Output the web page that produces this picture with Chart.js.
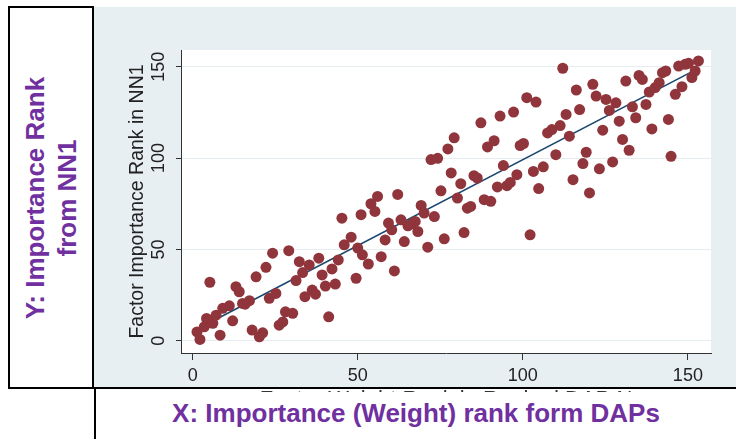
<!DOCTYPE html>
<html>
<head>
<meta charset="utf-8">
<script src="https://cdn.jsdelivr.net/npm/chart.js@4.4.1/dist/chart.umd.min.js"></script>
<style>
html, body { margin: 0; padding: 0; background: #fff; }
#wrap { position: relative; width: 736px; height: 439px; overflow: hidden; font-family: "Liberation Sans", Arial, sans-serif; }
#panel { position: absolute; left: 94px; top: 7px; width: 642px; height: 381px; background: #e8eff2; }
#cv { position: absolute; left: 0; top: 0; }
#ybox { position: absolute; left: 8px; top: 6px; width: 82px; height: 379px; border: 2px solid #000; background: #fff; }
#ytxt { position: absolute; left: 50%; top: 50%; transform: translate(-50%, -50%) rotate(-90deg); white-space: nowrap; text-align: center; font-weight: bold; font-size: 26px; line-height: 32px; color: #7030a0; }
#hline { position: absolute; left: 8px; top: 387px; width: 728px; height: 2px; background: #000; }
#vline { position: absolute; left: 94px; top: 387px; width: 2px; height: 52px; background: #000; }
#xbox { position: absolute; left: 96px; top: 392px; width: 640px; height: 47px; background: #fff; }
#xtxt { position: absolute; left: 0; width: 640px; top: 6px; text-align: center; font-weight: bold; font-size: 26px; line-height: 30px; color: #7030a0; white-space: nowrap; }
</style>
</head>
<body>
<div id="wrap">
  <div id="panel"></div>
  <canvas id="cv" width="736" height="439"></canvas>
  <div id="ybox"><div id="ytxt">Y: Importance Rank<br>from NN1</div></div>
  <div id="hline"></div>
  <div id="xbox"><div id="xtxt">X: Importance (Weight) rank form DAPs</div></div>
  <div id="vline"></div>
</div>
<script>
// Data
const xRank = [
  1.3, 2.2, 3.5, 4.2, 5.2, 6.1, 7.1, 8.3, 9.1, 11.1,
  12.1, 13.1, 14.1, 15.1, 15.9, 17.2, 18.0, 19.2, 20.2, 21.2,
  22.2, 23.2, 24.2, 25.2, 26.2, 27.3, 28.1, 29.1, 30.3, 31.3,
  32.3, 33.3, 34.0, 35.3, 36.2, 37.2, 38.2, 39.2, 40.2, 41.2,
  42.2, 43.2, 44.1, 45.2, 45.9, 48.0, 49.5, 50.0, 51.0, 51.4,
  53.2, 54.0, 55.2, 56.0, 57.1, 58.3, 59.3, 60.3, 61.1, 62.1,
  63.1, 64.1, 65.2, 66.4, 67.4, 68.2, 69.2, 70.1, 71.2, 72.2,
  73.2, 74.2, 75.2, 76.2, 77.3, 78.3, 79.2, 80.2, 81.2, 82.2,
  83.2, 84.2, 85.2, 86.2, 87.3, 88.3, 89.3, 90.3, 91.3, 92.3,
  93.1, 94.1, 95.2, 96.2, 97.2, 98.2, 99.2, 100.2, 101.2, 102.2,
  103.2, 104.0, 104.8, 106.2, 107.5, 108.8, 110.0, 111.3, 112.1, 113.1,
  114.1, 115.2, 116.2, 117.2, 118.2, 119.2, 120.2, 121.2, 122.2, 123.2,
  124.2, 125.2, 126.2, 127.2, 128.2, 129.2, 130.2, 131.2, 132.2, 133.2,
  134.2, 135.2, 136.2, 137.3, 138.3, 139.1, 140.1, 141.3, 142.3, 143.3,
  144.1, 144.9, 146.2, 147.2, 148.2, 149.2, 150.2, 151.2, 152.2, 153.2
];
const yRank = [
  4.8, 0.7, 7.6, 12.2, 32.0, 9.5, 14.0, 3.0, 17.7, 19.1,
  10.9, 29.6, 26.8, 20.4, 20.0, 21.9, 5.8, 35.0, 2.1, 4.3,
  40.2, 23.2, 47.9, 25.9, 8.5, 10.3, 15.8, 49.3, 15.0, 32.9,
  43.3, 37.3, 24.1, 41.5, 27.7, 25.5, 45.2, 36.0, 29.9, 13.1,
  39.3, 31.0, 44.2, 67.1, 52.5, 56.7, 34.2, 50.7, 69.0, 47.0,
  42.0, 75.0, 70.8, 79.0, 46.0, 55.2, 64.4, 60.7, 38.2, 80.1,
  66.2, 54.3, 62.9, 64.0, 65.3, 59.8, 74.1, 69.9, 51.2, 99.2,
  68.0, 99.9, 82.1, 55.8, 105.0, 91.9, 111.1, 78.1, 86.0, 59.2,
  72.6, 73.5, 90.4, 89.1, 119.3, 77.2, 106.1, 76.3, 109.5, 84.2,
  123.0, 95.9, 84.9, 86.7, 125.2, 90.9, 106.9, 108.0, 133.1, 58.0,
  92.7, 130.7, 83.3, 95.2, 113.8, 115.6, 101.9, 117.8, 149.2, 123.9,
  112.0, 88.2, 137.3, 126.6, 97.0, 103.2, 80.9, 140.4, 134.0, 94.1,
  115.3, 132.1, 126.1, 97.9, 130.3, 120.2, 110.2, 142.2, 104.3, 128.1,
  122.1, 145.3, 143.1, 129.4, 136.2, 116.0, 138.6, 141.3, 146.8, 147.7,
  121.2, 101.0, 134.9, 150.4, 139.1, 151.4, 151.9, 144.1, 147.7, 153.2
];
// Fitted line end points
const fitX = [1, 153];
const fitY = [6, 149];
const xTicks = [0, 50, 100, 150];
const yTicks = [0, 50, 100, 150];
const xTitle = 'Factor Weight Rank in Ranked DAP N';
const yTitle = 'Factor Importance Rank in NN1';

const plotBg = {
  id: 'plotBg',
  beforeDraw(chart) {
    const { ctx, chartArea: a } = chart;
    ctx.save();
    ctx.fillStyle = '#ffffff';
    ctx.fillRect(a.left, a.top, a.right - a.left, a.bottom - a.top);
    ctx.restore();
  }
};

const FONT = '"Liberation Sans", Arial, sans-serif';

new Chart(document.getElementById('cv'), {
  type: 'scatter',
  data: {
    datasets: [
      {
        data: xRank.map((x, i) => ({ x: x, y: yRank[i] })),
        backgroundColor: '#90353b',
        borderColor: '#90353b',
        borderWidth: 0,
        pointRadius: 5.5,
        order: 0
      },
      {
        data: fitX.map((x, i) => ({ x: x, y: fitY[i] })),
        showLine: true,
        borderColor: '#1a476f',
        borderWidth: 1.6,
        pointRadius: 0,
        fill: false,
        order: 1
      }
    ]
  },
  options: {
    responsive: false,
    animation: false,
    devicePixelRatio: 1,
    layout: { padding: { top: 50, right: 25, left: 0, bottom: 0 } },
    plugins: { legend: { display: false }, tooltip: { enabled: false } },
    scales: {
      x: {
        type: 'linear',
        min: -3.54,
        max: 157.0,
        afterBuildTicks: s => { s.ticks = xTicks.map(v => ({ value: v })); },
        afterFit: s => { s.height = 86; },
        grid: { drawOnChartArea: false, tickLength: 7, tickColor: '#333', lineWidth: 1 },
        border: { color: '#333', width: 1 },
        ticks: { font: { size: 18, family: FONT }, color: '#222', padding: 5, maxRotation: 0, autoSkip: false },
        title: { display: true, text: xTitle, font: { size: 22, family: FONT }, color: '#333', padding: { top: 0, bottom: 26 } }
      },
      y: {
        type: 'linear',
        min: -6.74,
        max: 159.2,
        afterBuildTicks: s => { s.ticks = yTicks.map(v => ({ value: v })); },
        afterFit: s => { s.width = 181; },
        grid: { color: '#e6edf0', tickLength: 5, tickColor: '#333', lineWidth: 1 },
        border: { color: '#333', width: 1 },
        ticks: { font: { size: 18, family: FONT }, color: '#222', padding: 2, minRotation: 90, maxRotation: 90, crossAlign: 'center', autoSkip: false },
        title: { display: true, text: yTitle, font: { size: 19.5, family: FONT }, color: '#222', padding: { top: 126, bottom: 0 } }
      }
    }
  },
  plugins: [plotBg]
});
</script>
</body>
</html>
